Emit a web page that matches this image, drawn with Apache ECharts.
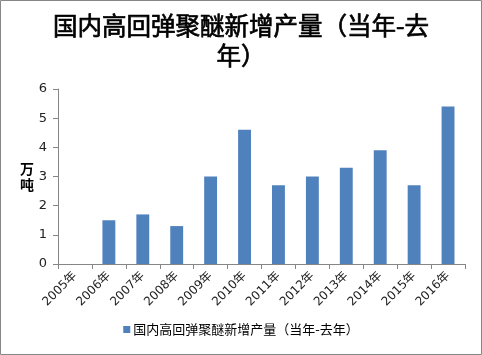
<!DOCTYPE html>
<html><head><meta charset="utf-8">
<script src="https://cdn.jsdelivr.net/npm/echarts@6/dist/echarts.min.js"></script>
<style>html,body{margin:0;padding:0;background:#fff}#c{width:482px;height:355px}</style>
</head><body><div id="c"></div>
<script>
const titleText = '国内高回弹聚醚新增产量（当年-去\n年）';
const seriesName = '国内高回弹聚醚新增产量（当年-去年）';
const categories = ['2005年','2006年','2007年','2008年','2009年','2010年','2011年','2012年','2013年','2014年','2015年','2016年'];
const values = [null,1.5,1.7,1.3,3.0,4.6,2.7,3.0,3.3,3.9,2.7,5.4];
const yTicks = {min:0,max:6,interval:1};
const yName = '万\n吨';

const chart = echarts.init(document.getElementById('c'));
chart.setOption({
  animation:false,
  backgroundColor:'#fff',
  graphic:[
    {type:'rect',shape:{x:0.5,y:0.5,width:481,height:354},style:{fill:'none',stroke:'#868686',lineWidth:1}},
    {type:'text',x:241,y:11,style:{text:titleText,textAlign:'center',textVerticalAlign:'top',
      font:'normal 24.5px "Noto Sans CJK SC"',fill:'#000',stroke:'#000',lineWidth:0.7,lineHeight:30}},
    {type:'text',x:20,y:161,style:{text:yName,font:'bold 14px "Noto Sans CJK SC"',fill:'#000',lineHeight:16}}
  ],
  grid:{left:58,right:17,top:89,bottom:91,containLabel:false},
  legend:{top:318,left:'center',itemWidth:7,itemHeight:7,itemGap:5,icon:'rect',
    textStyle:{fontFamily:'"Noto Sans CJK SC"',fontSize:13,color:'#000',padding:[0,0,0,-2]}},
  xAxis:{type:'category',data:categories,
    axisLine:{lineStyle:{color:'#868686'}},
    axisTick:{show:true,alignWithLabel:false,length:5,lineStyle:{color:'#868686'}},
    axisLabel:{rotate:45,interval:0,fontFamily:'"DejaVu Sans","Noto Sans CJK SC"',fontSize:12,color:'#222',margin:10}},
  yAxis:{type:'value',min:yTicks.min,max:yTicks.max,interval:yTicks.interval,
    axisLine:{show:true,lineStyle:{color:'#868686'}},
    axisTick:{show:true,length:5,lineStyle:{color:'#868686'}},
    splitLine:{show:false},
    axisLabel:{fontFamily:'"DejaVu Sans"',fontSize:13,color:'#222',margin:11}},
  series:[{name:seriesName,type:'bar',data:values,barWidth:'38%',itemStyle:{color:'#4F81BD'}}]
});
</script></body></html>
